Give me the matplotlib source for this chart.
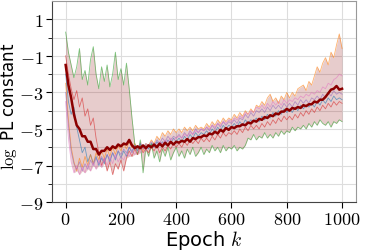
import numpy as np
import matplotlib
matplotlib.use("Agg")
import matplotlib.pyplot as plt

plt.rcParams['mathtext.fontset'] = 'cm'
plt.rcParams['font.family'] = 'DejaVu Sans'

epochs = np.arange(0, 1001, 10)

green = [0.3, -0.8, -1.5, -2.2, -1.6, -0.6, -2.3, -1.8, -2.6, -1.2, -0.5,
         -2.0, -2.8, -1.6, -2.4, -1.5, -2.7, -2.0, -0.8, -2.3, -1.7,
         -2.6, -1.4, -2.8, -4.4, -5.8, -6.4, -5.6, -7.4, -6.0, -6.5,
         -5.8, -6.6, -6.2, -6.8, -6.1, -6.5, -6.0, -6.7, -6.3, -6.0,
         -6.5, -6.2, -6.6, -6.1, -6.4, -6.0, -6.5, -6.3, -6.0, -6.4,
         -6.1, -6.3, -5.9, -6.2, -6.0, -6.3, -5.9, -6.2, -6.0, -6.1,
         -5.9, -6.2, -6.0, -6.1, -5.9, -5.5, -5.6, -5.3, -5.6, -5.4,
         -5.5, -5.2, -5.5, -5.3, -5.5, -5.2, -5.4, -5.1, -5.3, -5.1,
         -5.2, -4.9, -5.1, -4.9, -5.0, -4.8, -5.0, -4.7, -4.9, -4.6,
         -4.8, -4.5, -4.7, -4.8, -4.6, -4.9, -4.6, -4.7, -4.5, -4.6]

orange = [-2.5, -4.5, -6.0, -6.8, -7.3, -6.6, -7.1, -6.5, -7.0, -6.4, -6.9,
          -6.3, -6.7, -6.2, -6.6, -6.1, -6.5, -6.0, -6.4, -5.9, -6.2,
          -5.8, -6.1, -5.7, -6.0, -5.8, -6.1, -5.9, -6.2, -5.8, -5.9,
          -5.6, -5.8, -5.4, -5.6, -5.2, -5.4, -5.1, -5.3, -5.0, -5.2,
          -5.0, -5.2, -4.9, -5.1, -4.9, -5.1, -4.8, -5.0, -4.9, -5.0,
          -4.7, -4.9, -4.6, -4.8, -4.5, -4.7, -4.4, -4.6, -4.4, -4.5,
          -4.2, -4.4, -4.1, -4.3, -4.0, -4.2, -3.9, -4.1, -3.7, -3.8,
          -3.5, -3.7, -3.3, -3.1, -3.5, -3.3, -3.6, -3.2, -3.4, -3.0,
          -3.3, -3.0, -3.2, -2.8, -2.7, -2.6, -2.9, -2.4, -2.6, -2.1,
          -1.6, -1.9, -1.4, -1.1, -1.5, -0.8, -1.1, -0.4, 0.2, -0.6]

blue = [-2.0, -3.5, -4.2, -3.8, -4.9, -5.6, -6.3, -6.0, -6.8, -6.4, -6.9,
        -6.5, -7.0, -6.6, -6.9, -6.4, -6.8, -6.3, -6.7, -6.2, -6.6,
        -6.2, -6.5, -6.0, -6.3, -5.9, -6.2, -5.8, -6.1, -5.9, -6.1,
        -5.8, -6.0, -5.7, -5.9, -5.7, -5.9, -5.6, -5.8, -5.5, -5.7,
        -5.5, -5.7, -5.4, -5.6, -5.3, -5.5, -5.2, -5.4, -5.2, -5.3,
        -5.1, -5.3, -5.0, -5.2, -4.9, -5.1, -4.8, -5.0, -4.8, -4.9,
        -4.7, -4.9, -4.6, -4.8, -4.5, -4.7, -4.5, -4.6, -4.4, -4.6,
        -4.3, -4.5, -4.2, -4.4, -4.1, -4.3, -4.0, -4.2, -3.9, -4.1,
        -3.9, -4.1, -3.8, -4.0, -3.7, -3.9, -3.7, -3.8, -3.6, -3.8,
        -3.5, -3.7, -3.4, -3.6, -3.3, -3.5, -3.2, -3.4, -3.3, -3.4]

red = [-1.0, -2.0, -2.8, -3.4, -2.9, -3.8, -3.3, -4.3, -3.9, -4.8, -4.4,
       -5.5, -6.3, -7.0, -6.6, -7.3, -6.8, -7.5, -6.9, -7.2, -6.7,
       -7.3, -6.6, -6.2, -6.5, -6.1, -6.4, -6.0, -6.3, -6.1, -6.3,
       -6.0, -6.2, -5.9, -6.3, -6.0, -6.2, -5.9, -6.1, -5.8, -6.0,
       -5.8, -6.0, -5.7, -5.9, -5.6, -5.8, -5.6, -5.8, -5.5, -5.7,
       -5.5, -5.7, -5.4, -5.6, -5.3, -5.5, -5.2, -5.4, -5.2, -5.3,
       -5.1, -5.3, -5.0, -5.2, -4.9, -5.1, -4.8, -5.0, -4.8, -5.0,
       -4.7, -4.9, -4.6, -4.8, -4.5, -4.7, -4.4, -4.6, -4.3, -4.5,
       -4.3, -4.5, -4.2, -4.4, -4.1, -4.3, -4.0, -4.2, -3.9, -4.1,
       -3.8, -4.0, -3.7, -3.9, -3.6, -3.8, -3.5, -3.7, -3.5, -3.6]

purple = [-3.0, -4.8, -6.2, -6.9, -7.2, -6.8, -7.3, -6.9, -7.2, -6.7, -7.0,
          -6.6, -6.9, -6.5, -6.8, -6.4, -6.7, -6.3, -6.6, -6.2, -6.4,
          -6.1, -6.3, -6.0, -6.2, -5.9, -6.1, -5.8, -6.0, -5.8, -5.9,
          -5.7, -5.9, -5.6, -5.8, -5.5, -5.7, -5.4, -5.6, -5.4, -5.5,
          -5.3, -5.5, -5.2, -5.4, -5.1, -5.3, -5.0, -5.2, -5.0, -5.1,
          -4.9, -5.1, -4.8, -5.0, -4.7, -4.9, -4.6, -4.8, -4.6, -4.7,
          -4.5, -4.7, -4.4, -4.5, -4.2, -4.4, -4.1, -4.3, -4.0, -4.1,
          -3.9, -4.1, -3.8, -4.0, -3.7, -3.9, -3.7, -3.9, -3.6, -3.8,
          -3.6, -3.8, -3.5, -3.7, -3.4, -3.6, -3.4, -3.6, -3.3, -3.4,
          -3.2, -3.4, -3.1, -3.3, -3.0, -3.2, -2.9, -3.1, -3.0, -3.1]

pink = [-3.5, -5.5, -6.8, -7.4, -7.0, -7.5, -7.1, -7.4, -6.9, -7.3, -6.8,
        -7.2, -6.7, -7.1, -6.6, -7.0, -6.5, -6.9, -6.4, -6.8, -6.5,
        -6.7, -6.3, -6.5, -6.2, -6.4, -6.1, -6.3, -6.0, -6.2, -5.9,
        -6.0, -5.8, -5.9, -5.7, -5.8, -5.6, -5.7, -5.5, -5.6, -5.5,
        -5.4, -5.5, -5.3, -5.4, -5.2, -5.3, -5.1, -5.2, -5.0, -5.1,
        -4.9, -5.0, -4.8, -4.9, -4.7, -4.8, -4.6, -4.7, -4.5, -4.6,
        -4.4, -4.5, -4.3, -4.4, -4.1, -4.2, -4.0, -4.1, -3.8, -3.9,
        -3.7, -3.9, -3.6, -3.8, -3.5, -3.7, -3.5, -3.7, -3.4, -3.6,
        -3.4, -3.5, -3.3, -3.4, -3.2, -3.3, -3.1, -3.2, -3.0, -3.1,
        -2.9, -3.0, -2.7, -2.8, -2.5, -2.6, -2.3, -2.2, -2.0, -2.1]

mean = [-1.5, -2.6, -3.3, -4.2, -4.8, -5.0, -5.4, -5.4, -5.7, -5.7, -6.1,
        -6.1, -6.4, -6.2, -6.2, -6.0, -6.15, -5.95, -6.05, -5.85, -5.95,
        -5.8, -5.85, -5.6, -5.9, -6.05, -5.95, -6.05, -5.9, -6.05, -5.9,
        -6.0, -5.85, -6.0, -5.8, -5.95, -5.75, -5.9, -5.7, -5.85, -5.7,
        -5.75, -5.65, -5.7, -5.55, -5.7, -5.5, -5.55, -5.45, -5.45, -5.35,
        -5.4, -5.25, -5.3, -5.15, -5.25, -5.05, -5.15, -4.95, -5.05, -4.9,
        -4.95, -4.85, -4.85, -4.75, -4.8, -4.65, -4.7, -4.55, -4.6, -4.45,
        -4.5, -4.35, -4.4, -4.25, -4.3, -4.15, -4.2, -4.05, -4.05, -3.9,
        -4.0, -3.85, -3.9, -3.8, -3.85, -3.7, -3.75, -3.65, -3.65, -3.5,
        -3.55, -3.4, -3.4, -3.25, -3.05, -2.85, -2.8, -2.65, -2.85, -2.8]

seeds = [blue, orange, green, red, purple, pink]
seed_colors = ['C0', 'C1', 'C2', 'C3', 'C4', 'C6']

fig = plt.figure(figsize=(3.65, 2.51), dpi=100)
ax = fig.add_axes([0.142, 0.191, 0.833, 0.801])

runs = np.array(seeds)
ax.fill_between(epochs, runs.min(axis=0), runs.max(axis=0),
                color='darkred', alpha=0.2, lw=0)
for vals, c in zip(seeds, seed_colors):
    ax.plot(epochs, vals, color=c, lw=0.6, alpha=0.6)
ax.plot(epochs, mean, color='darkred', lw=1.8)

ax.set_xlim(-50, 1050)
ax.set_ylim(-9, 2)
xt = [0, 200, 400, 600, 800, 1000]
ax.set_xticks(xt)
ax.set_xticklabels([f"${v}$" for v in xt], fontsize=13)
yt = [1, -1, -3, -5, -7, -9]
ax.set_yticks(yt)
ax.set_yticklabels([f"${v}$" for v in yt], fontsize=13)
ax.set_yticks([0, -2, -4, -6, -8], minor=True)
ax.grid(True, which='both', color='#dddddd', lw=0.8)
ax.set_axisbelow(True)
ax.tick_params(which='major', length=4, width=0.8, pad=2)
ax.tick_params(which='minor', length=3, width=0.6)

for s in ['top', 'right']:
    ax.spines[s].set_color('#999999')
for s in ['left', 'bottom']:
    ax.spines[s].set_color('#444444')

ax.set_xlabel(r"Epoch $k$", fontsize=14, labelpad=0)
ax.set_ylabel(r"$\log$ PL constant", fontsize=12)
ax.yaxis.set_label_coords(-0.108, 0.48)

fig.savefig("out.png", dpi=100)
